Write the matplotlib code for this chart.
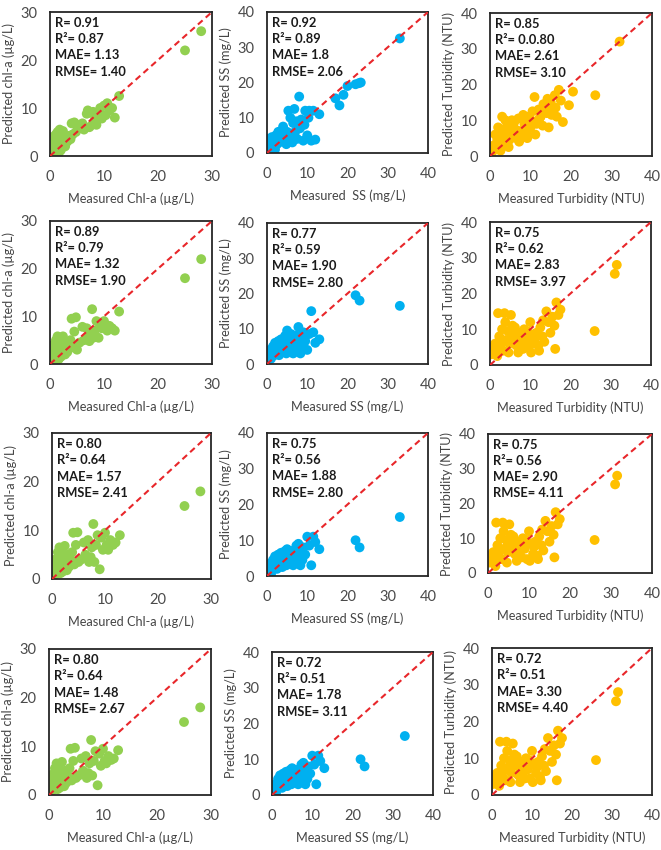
import numpy as np
import matplotlib.pyplot as plt

plt.rcParams['font.family'] = ['Lato', 'DejaVu Sans']

# measured values (shared between models where the reference shows the same x)
chl_meas = [0.2, 0.3, 0.4, 0.5, 0.6, 0.7, 0.8, 0.9, 1.0, 1.1, 1.2, 1.3, 1.4, 1.5, 1.6, 1.7,
            1.8, 1.9, 2.0, 2.1, 2.2, 2.3, 2.4, 2.5, 2.7, 2.8, 3.0, 3.2, 3.5, 3.8, 4.0, 4.2,
            4.5, 4.8, 5.0, 5.5, 6.0, 6.3, 6.8, 7.0, 7.3, 7.5, 7.8, 8.0, 8.3, 8.6, 9.0, 9.3,
            9.6, 10.0, 10.3, 10.6, 11.0, 11.5, 12.0, 12.8, 25.0, 28.0]

chl_pred1 = [2.0, 3.5, 1.0, 2.5, 4.0, 1.5, 3.0, 0.8, 2.2, 4.5, 1.8, 3.2, 5.0, 2.6, 0.6, 4.0,
             5.5, 3.0, 1.2, 4.8, 2.4, 3.6, 5.2, 2.8, 3.4, 2.0, 4.0, 3.0, 4.2, 3.5, 6.8, 4.5,
             7.0, 5.0, 6.5, 5.8, 6.8, 5.5, 8.8, 9.5, 6.0, 9.0, 6.5, 9.2, 7.5, 6.5, 8.5, 10.0,
             7.8, 10.5, 8.5, 11.0, 9.5, 10.0, 8.0, 12.5, 22.0, 26.0]
chl_pred2 = [1.5, 3.0, 1.0, 2.0, 4.0, 1.2, 2.8, 0.8, 2.0, 5.0, 1.6, 3.5, 5.8, 2.5, 1.0, 4.2,
             5.5, 3.0, 1.5, 4.5, 2.2, 3.8, 5.8, 2.5, 3.0, 2.0, 4.5, 2.5, 3.8, 5.0, 9.5, 3.5,
             6.8, 9.8, 3.0, 4.5, 7.8, 5.0, 7.5, 5.5, 4.8, 6.5, 11.5, 5.5, 7.0, 9.0, 5.5, 8.5,
             7.5, 9.0, 8.0, 7.0, 8.0, 7.5, 7.0, 11.0, 18.0, 22.0]
chl_pred3 = [1.5, 3.5, 1.2, 2.5, 4.0, 1.0, 2.8, 1.5, 2.2, 5.5, 1.8, 3.8, 6.5, 2.5, 1.2, 4.5,
             6.0, 3.2, 1.5, 5.0, 2.0, 4.0, 6.8, 2.5, 3.2, 1.8, 5.0, 2.5, 4.0, 5.5, 9.5, 3.0,
             7.0, 9.6, 3.5, 4.0, 7.5, 5.0, 8.0, 3.5, 4.5, 6.5, 11.3, 3.5, 7.0, 9.0, 2.0, 8.5,
             6.0, 9.5, 7.0, 6.0, 8.0, 7.0, 7.5, 9.0, 15.0, 18.0]
chl_pred4 = [1.5, 3.8, 1.2, 2.5, 4.2, 1.0, 2.8, 1.5, 2.0, 5.5, 1.8, 3.8, 6.5, 2.5, 1.2, 4.5,
             6.0, 3.2, 1.5, 5.0, 2.0, 4.0, 6.8, 2.5, 3.2, 1.8, 5.0, 2.5, 4.0, 5.5, 9.5, 3.0,
             7.0, 9.7, 3.5, 4.0, 7.5, 5.0, 8.0, 3.5, 4.5, 6.5, 11.3, 4.0, 7.0, 9.0, 2.0, 8.5,
             6.0, 9.5, 7.0, 6.5, 8.0, 7.2, 7.5, 9.2, 15.0, 18.0]

ss1_meas = [0.3, 0.5, 0.8, 1.0, 1.2, 1.5, 1.8, 2.0, 2.2, 2.5, 2.8, 3.0, 3.3, 3.5, 3.8, 4.0,
            4.3, 4.5, 4.8, 5.0, 5.3, 5.5, 5.8, 6.0, 6.3, 6.5, 6.8, 7.0, 7.3, 7.5, 8.0, 8.2,
            8.5, 9.0, 9.3, 9.5, 10.0, 10.3, 10.5, 11.0, 11.5, 12.0, 13.0, 17.0, 18.0, 19.0,
            20.0, 22.0, 22.8, 23.3, 33.0]
ss1_pred = [4.0, 1.5, 3.0, 0.5, 4.5, 2.0, 3.5, 1.0, 5.0, 2.5, 6.0, 3.0, 5.5, 4.0, 6.5, 7.5,
            3.5, 5.0, 2.5, 6.0, 12.0, 4.0, 10.0, 5.5, 3.0, 8.5, 12.5, 6.0, 9.0, 4.0, 16.0, 7.0,
            9.5, 3.5, 8.0, 12.0, 5.0, 10.0, 12.0, 3.5, 12.0, 3.8, 11.0, 15.5, 13.5, 16.5,
            19.0, 19.5, 19.8, 20.0, 32.5]

ss_meas = [0.3, 0.5, 0.8, 1.0, 1.2, 1.5, 1.8, 2.0, 2.2, 2.5, 2.8, 3.0, 3.3, 3.5, 3.8, 4.0,
           4.3, 4.5, 4.8, 5.0, 5.3, 5.5, 5.8, 6.0, 6.3, 6.5, 6.8, 7.0, 7.3, 7.5, 7.8, 8.0,
           8.3, 8.5, 8.8, 9.0, 9.5, 10.0, 10.5, 11.0, 11.5, 12.0, 13.0, 22.0, 23.0, 33.0]
ss_pred2 = [3.5, 2.0, 4.0, 1.5, 3.0, 5.0, 2.5, 6.0, 4.0, 3.0, 6.5, 2.5, 5.0, 7.0, 3.5, 6.0,
            4.5, 8.0, 3.0, 9.5, 5.5, 7.5, 4.0, 8.5, 6.0, 3.0, 7.0, 5.0, 8.0, 4.5, 10.5, 6.0,
            3.0, 8.0, 5.0, 9.0, 6.5, 4.0, 8.5, 15.0, 9.0, 6.0, 7.0, 19.5, 18.0, 16.5]
ss_pred3 = [2.5, 1.0, 3.5, 0.5, 2.0, 4.5, 2.0, 5.5, 3.5, 2.0, 6.0, 3.0, 4.5, 6.5, 2.5, 5.5,
            4.0, 7.0, 3.0, 7.5, 5.0, 6.0, 3.5, 7.0, 5.5, 3.0, 6.5, 4.5, 8.5, 4.0, 9.0, 5.5,
            3.0, 7.5, 4.5, 8.0, 6.0, 11.0, 8.5, 3.0, 11.0, 9.5, 7.5, 10.0, 8.0, 16.5]
ss_pred4 = [2.5, 1.0, 3.0, 0.5, 2.0, 4.5, 2.5, 5.5, 3.5, 2.0, 6.0, 3.0, 4.5, 6.5, 2.5, 5.5,
            4.0, 7.0, 3.0, 7.5, 5.0, 6.0, 3.5, 7.0, 5.5, 3.0, 6.5, 4.5, 8.5, 4.0, 9.0, 5.5,
            3.0, 7.5, 4.5, 8.0, 6.0, 11.0, 8.5, 3.0, 11.0, 9.5, 7.5, 10.0, 8.0, 16.5]

turb1_meas = [0.5, 1.0, 1.3, 1.6, 2.0, 2.3, 2.6, 3.0, 3.3, 3.6, 4.0, 4.4, 4.8, 5.2, 5.6, 6.0,
              6.5, 7.0, 7.5, 8.0, 8.5, 9.0, 9.5, 10.0, 10.5, 11.0, 11.5, 12.0, 12.5, 13.0, 13.5,
              14.0, 14.5, 15.0, 15.5, 16.0, 16.5, 17.0, 17.5, 18.0, 19.5, 20.5, 26.0, 32.0,
              1.8, 2.8, 3.8, 4.6, 5.4, 6.2, 7.2, 8.2, 9.2, 10.2, 11.2, 12.2, 13.2, 14.2, 15.2, 16.2]
turb1_pred = [1.0, 3.0, 6.0, 2.0, 8.0, 4.0, 1.5, 11.0, 5.5, 3.0, 7.0, 9.0, 4.5, 8.5, 6.0, 9.5,
              5.0, 10.5, 7.0, 6.0, 9.0, 6.5, 11.0, 8.0, 12.5, 16.5, 9.0, 13.0, 11.0, 8.5, 14.0,
              12.0, 8.0, 15.0, 13.0, 17.0, 11.0, 18.5, 15.5, 9.5, 14.2, 18.0, 17.0, 32.0,
              4.5, 7.5, 10.0, 2.5, 10.0, 7.5, 4.0, 11.5, 5.0, 10.0, 6.0, 10.5, 14.5, 16.0, 11.5, 13.5]

turb_meas = [0.3, 0.6, 1.0, 1.3, 1.6, 2.0, 2.3, 2.6, 3.0, 3.3, 3.6, 4.0, 4.4, 4.8, 5.2, 5.6,
             6.0, 6.5, 7.0, 7.5, 8.0, 8.5, 9.0, 9.5, 10.0, 10.5, 11.0, 11.5, 12.0, 12.5, 13.0,
             13.5, 14.0, 14.5, 15.0, 15.5, 16.0, 16.5, 17.0, 17.5, 1.8, 2.8, 3.8, 4.6, 5.4, 6.2,
             7.2, 8.2, 9.2, 10.2, 11.2, 12.2, 13.2, 16.2, 26.0, 31.0, 31.5]
turb_pred2 = [3.0, 5.0, 3.5, 6.0, 4.0, 14.5, 8.0, 5.0, 10.0, 4.0, 14.5, 7.0, 9.5, 6.0, 14.0,
              11.0, 8.0, 5.5, 3.5, 9.0, 6.5, 10.0, 7.0, 5.0, 12.0, 8.5, 6.0, 9.0, 5.5, 10.5,
              8.0, 6.5, 15.0, 12.0, 9.0, 13.5, 11.0, 17.5, 14.0, 15.5, 2.5, 6.5, 12.0, 3.5,
              8.5, 10.5, 7.0, 4.5, 9.5, 3.5, 7.5, 4.0, 12.5, 4.5, 9.5, 25.5, 28.0]
turb_pred3 = [3.0, 5.0, 3.5, 6.0, 4.0, 14.5, 8.0, 5.0, 10.0, 4.0, 14.5, 7.0, 9.5, 6.0, 14.0,
              11.0, 8.0, 5.5, 3.5, 9.0, 6.5, 10.0, 7.0, 4.0, 12.0, 8.5, 5.5, 9.0, 5.0, 10.5,
              8.0, 6.5, 15.0, 12.0, 9.0, 13.5, 11.0, 17.5, 14.0, 15.5, 2.0, 6.5, 12.0, 3.0,
              8.5, 10.5, 7.0, 4.5, 9.5, 3.5, 7.5, 4.0, 12.5, 4.5, 9.5, 25.5, 28.0]
turb_pred4 = [3.0, 5.0, 4.0, 6.0, 4.5, 14.5, 8.0, 5.0, 10.0, 4.0, 14.5, 7.5, 9.5, 6.0, 14.0,
              11.0, 8.0, 5.5, 3.5, 9.0, 6.5, 10.0, 7.0, 4.5, 12.0, 8.5, 6.0, 9.0, 5.0, 10.5,
              8.0, 6.5, 15.5, 12.0, 9.0, 13.5, 11.0, 17.5, 14.0, 15.5, 2.5, 6.5, 12.0, 3.5,
              8.5, 10.5, 7.0, 4.5, 9.5, 3.5, 7.5, 4.0, 12.5, 4.0, 9.5, 25.5, 28.0]

stats = [
    ["R= 0.91", "R²= 0.87", "MAE= 1.13", "RMSE= 1.40"],
    ["R= 0.92", "R²= 0.89", "MAE= 1.8", "RMSE= 2.06"],
    ["R= 0.85", "R²= 0.0.80", "MAE= 2.61", "RMSE= 3.10"],
    ["R= 0.89", "R²= 0.79", "MAE= 1.32", "RMSE= 1.90"],
    ["R= 0.77", "R²= 0.59", "MAE= 1.90", "RMSE= 2.80"],
    ["R= 0.75", "R²= 0.62", "MAE= 2.83", "RMSE= 3.97"],
    ["R= 0.80", "R²= 0.64", "MAE= 1.57", "RMSE= 2.41"],
    ["R= 0.75", "R²= 0.56", "MAE= 1.88", "RMSE= 2.80"],
    ["R= 0.75", "R²= 0.56", "MAE= 2.90", "RMSE= 4.11"],
    ["R= 0.80", "R²= 0.64", "MAE= 1.48", "RMSE= 2.67"],
    ["R= 0.72", "R²= 0.51", "MAE= 1.78", "RMSE= 3.11"],
    ["R= 0.72", "R²= 0.51", "MAE= 3.30", "RMSE= 4.40"],
]

panels = [
    (chl_meas, chl_pred1), (ss1_meas, ss1_pred), (turb1_meas, turb1_pred),
    (chl_meas, chl_pred2), (ss_meas, ss_pred2), (turb_meas, turb_pred2),
    (chl_meas, chl_pred3), (ss_meas, ss_pred3), (turb_meas, turb_pred3),
    (chl_meas, chl_pred4), (ss_meas, ss_pred4), (turb_meas, turb_pred4),
]

colors = ["#92D050", "#00B0F0", "#FFC000"]
limits = [30, 40, 40]
xlabels = [["Measured Chl-a (µg/L)", "Measured  SS (mg/L)", "Measured Turbidity (NTU)"]] + \
          [["Measured Chl-a (µg/L)", "Measured SS (mg/L)", "Measured Turbidity (NTU)"]] * 3
ylabels = ["Predicted chl-a (µg/L)", "Predicted SS (mg/L)", "Predicted Turbidity (NTU)"]

# axes boxes in pixels: left, top, right, bottom
boxes = [
    (50, 12, 212, 156), (267, 12, 428, 153), (490, 13, 652, 156),
    (50, 221, 212, 364), (267, 223, 428, 364), (490, 222, 651, 365),
    (52, 433, 211, 579), (267, 433, 428, 576), (488, 434, 652, 573),
    (49, 649, 211, 795), (272, 652, 433, 795), (492, 648, 652, 795),
]

W, H = 661, 850
fig = plt.figure(figsize=(W / 100, H / 100), dpi=100)

for k, (meas, pred) in enumerate(panels):
    row, col = divmod(k, 3)
    l, t, r, b = boxes[k]
    ax = fig.add_axes([l / W, 1 - b / H, (r - l) / W, (b - t) / H])
    lim = limits[col]
    ax.scatter(meas, pred, s=50, color=colors[col], edgecolors='none', zorder=2)
    ax.plot([0, lim], [0, lim], color="#E8262A", lw=1.5, ls=(0, (3, 2)), zorder=3)
    ax.set_xlim(0, lim)
    ax.set_ylim(0, lim)
    ticks = np.arange(0, lim + 1, 10)
    ax.set_xticks(ticks)
    ax.set_yticks(ticks)
    ax.tick_params(length=0, labelsize=10.5, labelcolor="#4a4a4a")
    ax.tick_params(axis='x', pad=10)
    ax.tick_params(axis='y', pad=9)
    for sp in ax.spines.values():
        sp.set_color("#262626")
        sp.set_linewidth(1.3)
    ax.set_xlabel(xlabels[row][col], fontsize=9.2, color="#454545", labelpad=6)
    ax.set_ylabel(ylabels[col], fontsize=9.2, color="#454545", labelpad=4)
    ax.text(0.03, 0.965, "\n".join(stats[k]), transform=ax.transAxes,
            va='top', ha='left', fontsize=9.3, fontweight='bold', color="#1a1a1a",
            linespacing=1.42)

fig.savefig("out.png", dpi=100)
